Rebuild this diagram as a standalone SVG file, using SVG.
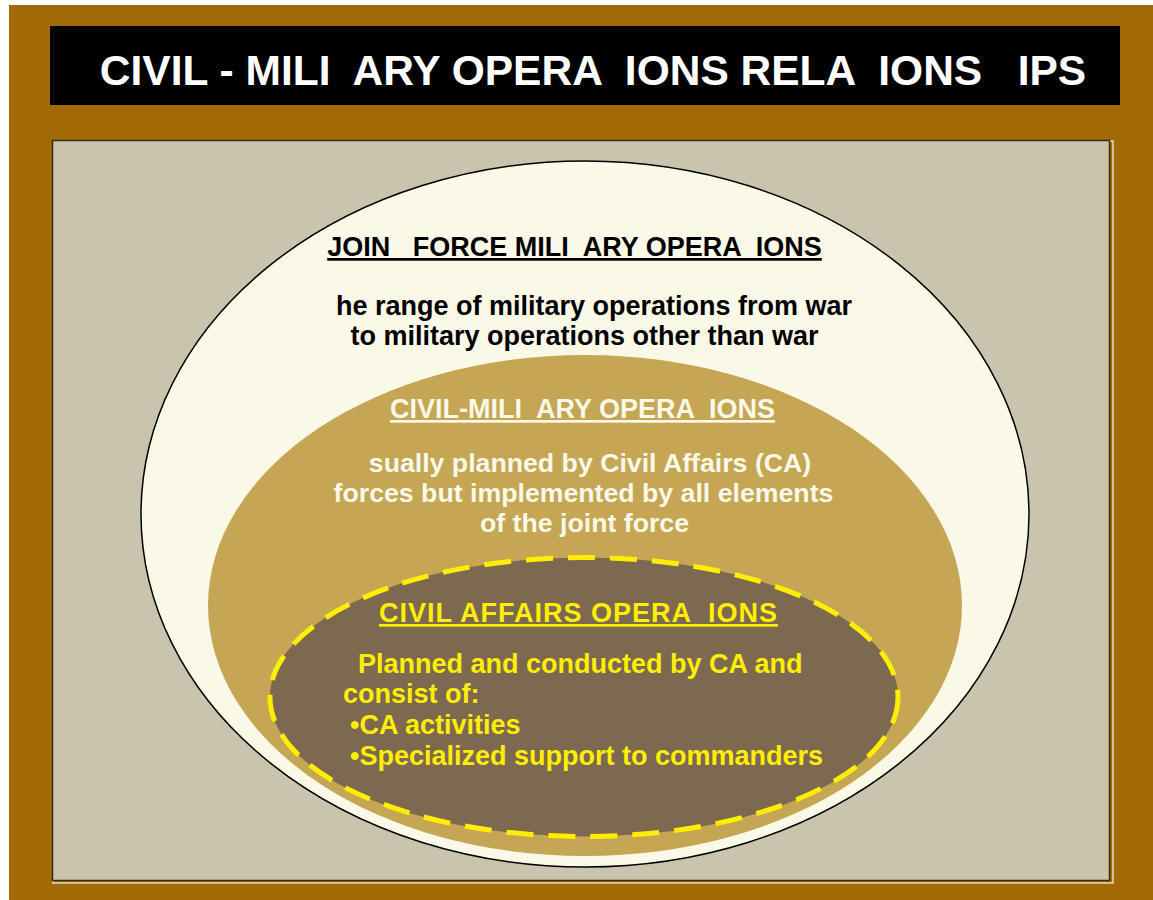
<svg xmlns="http://www.w3.org/2000/svg" width="1153" height="900" viewBox="0 0 1153 900">
<style>
  text { font-family: "Liberation Sans", Arial, sans-serif; font-weight: bold; white-space: pre; }
  .title { font-size: 42.5px; fill: #ffffff; }
  .h1 { font-size: 27px; fill: #000000; text-decoration: underline; }
  .b1 { font-size: 27px; fill: #000000; }
  .h2 { font-size: 27px; fill: #FAF8E6; text-decoration: underline; }
  .b2 { font-size: 26.7px; fill: #FAF8E6; }
  .h3 { font-size: 27px; fill: #FFEE00; text-decoration: underline; letter-spacing: 1px; }
  .b3 { font-size: 27px; fill: #FFEE00; }
</style>
<rect x="0" y="0" width="1153" height="900" fill="#ffffff"/>
<rect x="9" y="5" width="1144" height="895" fill="#A36B05"/>
<g id="title-bar">
  <rect x="50" y="26" width="1070" height="79" fill="#000000"/>
  <text class="title" x="593" y="85" text-anchor="middle">CIVIL - MILI  ARY OPERA  IONS RELA  IONS   IPS</text>
</g>
<g id="panel">
  <rect x="53" y="141" width="1060" height="742" fill="none" stroke="#E0DCC8" stroke-width="1.5"/>
  <rect x="52.5" y="140.5" width="1057" height="740" fill="#C8C4AE" stroke="#3A2A10" stroke-width="1.5"/>
</g>
<g id="joint-force">
  <ellipse cx="585" cy="514" rx="444" ry="353" fill="#FAF8E6" stroke="#000000" stroke-width="1.5"/>
  <text class="h1" x="574.5" y="256" text-anchor="middle">JOIN   FORCE MILI  ARY OPERA  IONS</text>
  <text class="b1" x="594" y="315" text-anchor="middle">he range of military operations from war</text>
  <text class="b1" x="584.5" y="345" text-anchor="middle">to military operations other than war</text>
</g>
<g id="civil-military">
  <ellipse cx="585" cy="605.5" rx="377" ry="250.5" fill="#C4A654"/>
  <text class="h2" x="582.5" y="418" text-anchor="middle">CIVIL-MILI  ARY OPERA  IONS</text>
  <text class="b2" x="590" y="472" text-anchor="middle">sually planned by Civil Affairs (CA)</text>
  <text class="b2" x="583.5" y="502" text-anchor="middle">forces but implemented by all elements</text>
  <text class="b2" x="584.5" y="532" text-anchor="middle">of the joint force</text>
</g>
<g id="civil-affairs">
  <ellipse cx="584" cy="697" rx="314" ry="139.5" fill="#7D6850" stroke="#FFEE00" stroke-width="5" stroke-dasharray="27 15"/>
  <text class="h3" x="578.5" y="622" text-anchor="middle">CIVIL AFFAIRS OPERA  IONS</text>
  <text class="b3" x="358" y="673">Planned and conducted by CA and</text>
  <text class="b3" x="343" y="703">consist of:</text>
  <text class="b3" x="350" y="734">•CA activities</text>
  <text class="b3" x="350" y="765">•Specialized support to commanders</text>
</g>
<g id="connectors"></g>
</svg>
